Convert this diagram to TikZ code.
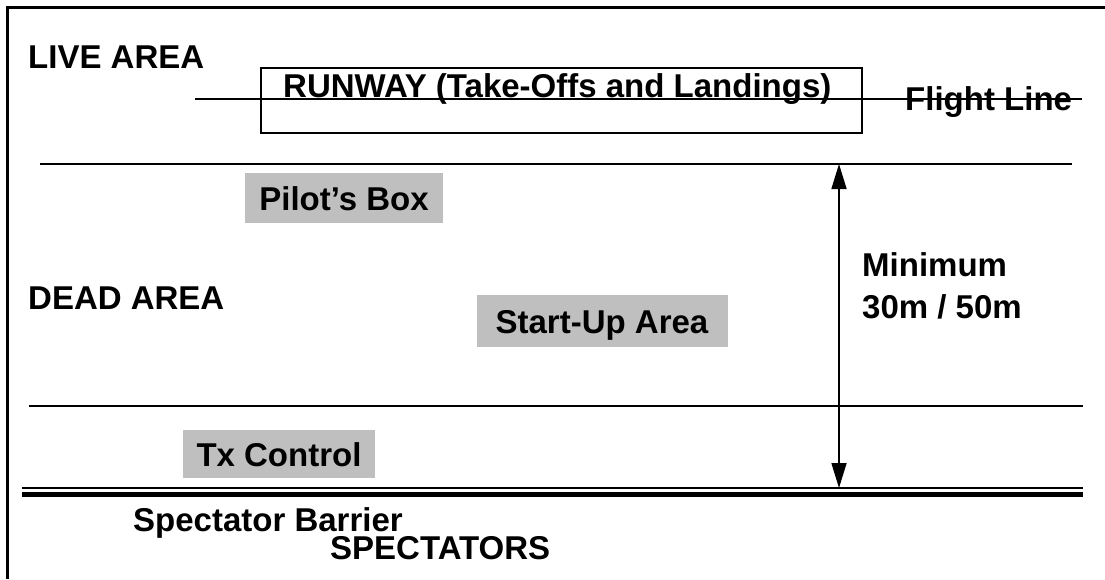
\documentclass[tikz,border=0pt]{standalone}
\usepackage{fontspec}
\setmainfont{Liberation Sans}
\usetikzlibrary{positioning,arrows.meta}
\tikzset{
  areatext/.style  = {font=\fontsize{33}{37}\selectfont\bfseries,
                      inner sep=0pt, anchor=base west},
  shadebox/.style  = {areatext, anchor=center, fill=gray!50,
                      text height=24pt, text depth=0pt},
  fieldline/.style = {line width=1.6pt},
  dimtip/.style    = {{Triangle[width=15pt,length=25pt]}-{Triangle[width=15pt,length=25pt]}},
}

\begin{document}
\begin{tikzpicture}[x=1pt,y=-1pt]
    \useasboundingbox (0,0) rectangle (1105,579);
    % frame
    \draw[line width=3pt] (7,579) -- (7,7) -- (1105,7);

    % runway and flight line
    \draw[fieldline] (261,68) rectangle (862,133);
    \draw[fieldline] (195,99) -- (1082,99);
    \node[areatext] (runway) at (283,97) {RUNWAY (Take-Offs and Landings)};
    \node[areatext] (flight) at (905,110) {Flight Line};
    \node[areatext] (live) at (28,68) {LIVE AREA};

    % dead area limits
    \draw[fieldline] (40,164) -- (1072,164);
    \draw[fieldline] (29,406) -- (1083,406);
    \draw[fieldline] (22,488) -- (1083,488);
    \draw[line width=5pt] (22,494.5) -- (1083,494.5);

    % shaded zones
    \node[shadebox, minimum width=198pt, minimum height=50pt] (pilot) at (344,198) {Pilot’s Box};
    \node[shadebox, minimum width=251pt, minimum height=52pt] (startup) at (602,321) {Start-Up Area};
    \node[shadebox, minimum width=192pt, minimum height=48pt] (txctrl) at (279,454) {Tx Control};
    \node[areatext] (dead) at (28,309) {DEAD AREA};

    % minimum distance
    \coordinate (dimtop) at (839,164);
    \coordinate (dimbot) at (839,488);
    \draw[fieldline, dimtip] (dimtop) -- (dimbot);
    \node[areatext] (minimum) at (862,276) {Minimum};
    \node[areatext, below=42pt of minimum.base west, anchor=base west] (dist) {30m / 50m};

    % spectators
    \node[areatext] (barrier) at (133,531) {Spectator Barrier};
    \node[areatext] (spect) at (330,559) {SPECTATORS};
\end{tikzpicture}
\end{document}
